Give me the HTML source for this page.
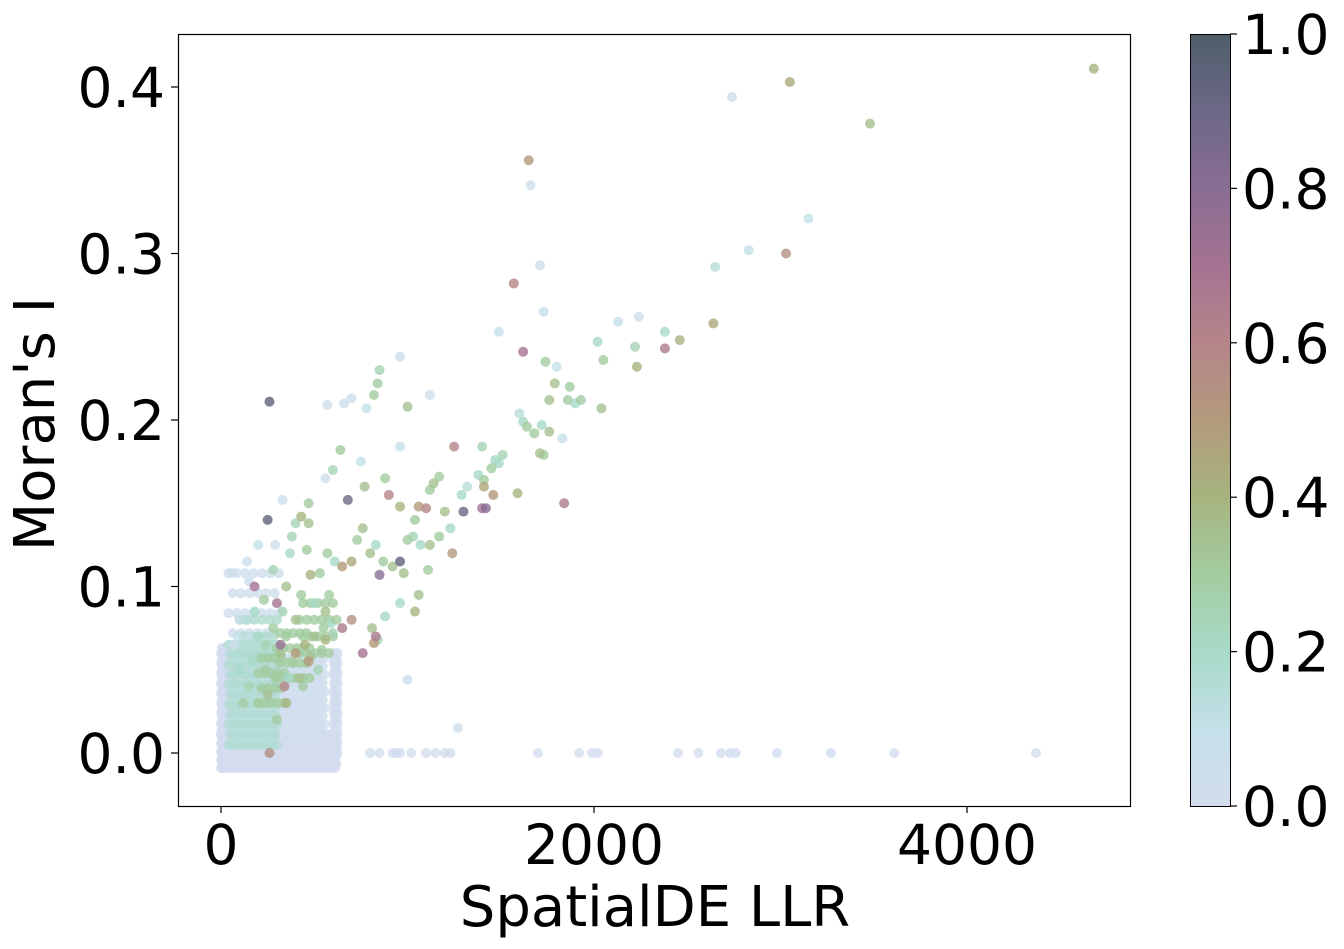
<!DOCTYPE html>
<html><head><meta charset="utf-8"><style>
body{margin:0;background:#fff;}
svg{display:block;font-family:"DejaVu Sans","Liberation Sans",sans-serif;}
</style></head><body>
<svg id="chart" width="1344" height="949" viewBox="0 0 1344 949">
<defs><linearGradient id="cmap" x1="0" y1="1" x2="0" y2="0"></linearGradient></defs>
<g id="blocks"></g>
<g id="pts"></g>
<rect x="178.5" y="34.5" width="952" height="772" fill="none" stroke="#000" stroke-width="1.2"/>
<g id="xt"></g>
<g id="yt"></g>
<text x="655" y="926" font-size="56" text-anchor="middle">SpatialDE LLR</text>
<text transform="translate(54,424) rotate(-90)" font-size="56" text-anchor="middle">Moran's I</text>
<rect x="1190.5" y="34.5" width="40" height="772" fill="url(#cmap)" stroke="#000" stroke-width="1"/>
<g id="cb"></g>
</svg>
<script>
const xTicks=[0,2000,4000];
const yTicks=[0.0,0.1,0.2,0.3,0.4];
const cbTicks=[0.0,0.2,0.4,0.6,0.8,1.0];
// dense blocks: [x0,x1,y0,y1,colorValue,xStep,yStep]
const blocks=[[0,620,-0.009,0.013,0.0,12,0.0025],[0,60,0.012,0.064,0.0,10,0.003],[605,625,0.0,0.062,0.0,10,0.003],[40,560,0.012,0.06,0.02,22,0.005],[40,330,0.06,0.11,0.03,45,0.012],[40,300,0.005,0.065,0.16,20,0.006],[100,300,0.06,0.08,0.18,40,0.01],[200,350,0.03,0.06,0.3,35,0.009],[300,480,0.045,0.075,0.3,35,0.009],[420,600,0.06,0.09,0.3,40,0.01]];
const ptX=[4680,3050,2740,3480,1650,1660,3150,2830,3030,1710,2650,1570,1730,2240,2130,2640,1490,2380,2460,2020,2220,2380,1620,2050,2230,1740,1800,850,960,1790,840,1870,1930,1760,1900,2040,1860,1000,820,260,570,660,700,780,1120,1600,1640,1620,1680,1720,1760,1830,1710,1730,640,960,1250,1400,1510,1470,1450,1490,1380,1170,1140,1120,1410,1410,1460,1590,1840,1400,1420,1300,1320,1290,1100,1060,1040,960,900,880,770,750,680,600,560,470,470,430,400,250,330,380,370,460,480,530,570,610,650,700,730,760,800,830,850,870,920,960,980,1000,1030,1070,1110,1120,1170,1240,1230,1200,1060,1040,960,880,810,830,840,760,820,1000,1270,180,150,60,300,140,200,290,580,620,560,500,430,400,350,320,450,500,550,600,650,700,380,420,470,290,250,200,150,100,120,170,240,280,330,300,350,360,240,200,150,100,260,340,400,320,540,480,520,440,560,590,350,280,230,180,130,90,70,800,850,920,940,960,1020,1100,1150,1200,1230,1700,1920,1990,2020,2450,2560,2680,2730,2760,2980,3270,3610,4370];
const ptY=[0.411,0.403,0.394,0.378,0.356,0.341,0.321,0.302,0.300,0.293,0.292,0.282,0.265,0.262,0.259,0.258,0.253,0.253,0.248,0.247,0.244,0.243,0.241,0.236,0.232,0.235,0.232,0.230,0.238,0.222,0.222,0.220,0.212,0.212,0.210,0.207,0.212,0.208,0.215,0.211,0.209,0.210,0.213,0.207,0.215,0.204,0.196,0.199,0.192,0.197,0.193,0.189,0.180,0.179,0.182,0.184,0.184,0.184,0.179,0.176,0.171,0.174,0.167,0.166,0.162,0.158,0.164,0.160,0.155,0.156,0.150,0.147,0.147,0.145,0.160,0.155,0.147,0.148,0.140,0.148,0.155,0.165,0.160,0.175,0.152,0.170,0.165,0.150,0.138,0.142,0.138,0.140,0.152,0.130,0.120,0.122,0.107,0.108,0.120,0.115,0.112,0.115,0.128,0.135,0.120,0.125,0.107,0.115,0.112,0.115,0.108,0.128,0.130,0.125,0.110,0.125,0.130,0.120,0.135,0.145,0.095,0.085,0.090,0.082,0.075,0.070,0.068,0.060,0.066,0.044,0.015,0.100,0.103,0.108,0.090,0.115,0.125,0.125,0.095,0.080,0.085,0.090,0.095,0.080,0.070,0.060,0.065,0.070,0.075,0.072,0.075,0.080,0.055,0.045,0.055,0.045,0.035,0.030,0.040,0.050,0.030,0.055,0.065,0.075,0.085,0.020,0.030,0.045,0.050,0.070,0.070,0.080,0.000,0.040,0.060,0.065,0.062,0.058,0.050,0.040,0.068,0.078,0.100,0.110,0.092,0.085,0.080,0.070,0.065,0,0,0,0,0,0,0,0,0,0,0,0,0,0,0,0,0,0,0,0,0,0,0];
const ptC=[0.4,0.45,0.02,0.35,0.5,0.05,0.1,0.1,0.55,0.05,0.15,0.6,0.1,0.05,0.1,0.45,0.1,0.2,0.4,0.2,0.25,0.65,0.7,0.3,0.4,0.3,0.1,0.25,0.05,0.35,0.3,0.3,0.3,0.35,0.2,0.35,0.3,0.35,0.3,0.95,0.05,0.05,0.05,0.1,0.05,0.15,0.3,0.2,0.3,0.2,0.35,0.1,0.35,0.3,0.3,0.1,0.6,0.25,0.25,0.2,0.3,0.2,0.2,0.3,0.35,0.3,0.3,0.45,0.5,0.4,0.65,0.7,0.8,0.9,0.15,0.2,0.6,0.5,0.3,0.4,0.6,0.3,0.35,0.1,0.9,0.25,0.05,0.3,0.35,0.4,0.25,0.95,0.05,0.25,0.2,0.3,0.4,0.3,0.3,0.2,0.5,0.45,0.3,0.35,0.35,0.2,0.8,0.3,0.35,0.95,0.35,0.3,0.25,0.2,0.3,0.35,0.3,0.5,0.2,0.35,0.35,0.4,0.2,0.2,0.35,0.65,0.25,0.7,0.5,0.05,0.05,0.7,0.05,0.05,0.7,0.05,0.1,0.05,0.3,0.3,0.35,0.2,0.3,0.35,0.3,0.35,0.4,0.35,0.3,0.25,0.65,0.55,0.3,0.35,0.5,0.3,0.35,0.3,0.25,0.2,0.3,0.2,0.25,0.3,0.25,0.3,0.4,0.2,0.3,0.2,0.1,0.05,0.55,0.6,0.5,0.75,0.3,0.35,0.25,0.3,0.4,0.2,0.35,0.25,0.3,0.2,0.15,0.1,0.05,0.05,0,0,0,0,0,0,0,0,0,0,0,0,0,0,0,0,0,0,0,0,0,0,0];

const NS='http://www.w3.org/2000/svg';
const X=v=>221+v*(373/2000);
const Y=v=>753-v*1665;
const stops=[[0,[211,220,239]],[0.1,[196,224,232]],[0.2,[168,218,200]],[0.3,[163,204,160]],[0.4,[166,180,127]],[0.5,[179,154,123]],[0.6,[181,133,138]],[0.7,[165,115,146]],[0.8,[138,109,147]],[0.9,[108,104,134]],[1,[79,94,107]]];
function cmap(c){for(let i=1;i<stops.length;i++){if(c<=stops[i][0]){const a=stops[i-1],b=stops[i],t=(c-a[0])/(b[0]-a[0]);return 'rgb('+a[1].map((v,k)=>Math.round(v+(b[1][k]-v)*t)).join(',')+')';}}return 'rgb(79,94,107)';}
function mk(tag,at,parent){const e=document.createElementNS(NS,tag);for(const k in at)e.setAttribute(k,at[k]);parent.appendChild(e);return e;}
const grad=document.getElementById('cmap');
stops.forEach(s=>{mk('stop',{offset:s[0],'stop-color':cmap(s[0])},grad);});
const gB=document.getElementById('blocks');
blocks.forEach(b=>{let row=0;for(let y=b[2];y<=b[3]+1e-9;y+=b[6],row++){const off=(row%2)*b[5]/2;for(let x=b[0]+off;x<=b[1]+1e-9;x+=b[5]){const e=mk('circle',{cx:X(x),cy:Y(y),r:5,fill:cmap(b[4]),'fill-opacity':0.8},gB);

}}});
const gP=document.getElementById('pts');
const idx=ptX.map((_,i)=>i).sort((a,b)=>ptC[a]-ptC[b]);
idx.forEach(i=>{const e=mk('circle',{cx:X(ptX[i]),cy:Y(ptY[i]),r:5,fill:cmap(ptC[i]),'fill-opacity':0.8},gP);

});
const gx=document.getElementById('xt');
xTicks.forEach(t=>{mk('line',{x1:X(t),x2:X(t),y1:806,y2:813,stroke:'#000','stroke-width':1.2},gx);const tx=mk('text',{x:X(t),y:864,'font-size':55,'text-anchor':'middle'},gx);tx.textContent=String(t);

});
const gy=document.getElementById('yt');
yTicks.forEach(t=>{mk('line',{x1:171,x2:178,y1:Y(t),y2:Y(t),stroke:'#000','stroke-width':1.2},gy);const tx=mk('text',{x:165,y:Y(t)+20,'font-size':55,'text-anchor':'end'},gy);tx.textContent=t.toFixed(1);

});
const gc=document.getElementById('cb');
cbTicks.forEach(t=>{const y=806-t*772;mk('line',{x1:1230,x2:1237,y1:y,y2:y,stroke:'#000','stroke-width':1.2},gc);const tx=mk('text',{x:1242,y:y+20,'font-size':55},gc);tx.textContent=t.toFixed(1);

});
</script>
</body></html>
